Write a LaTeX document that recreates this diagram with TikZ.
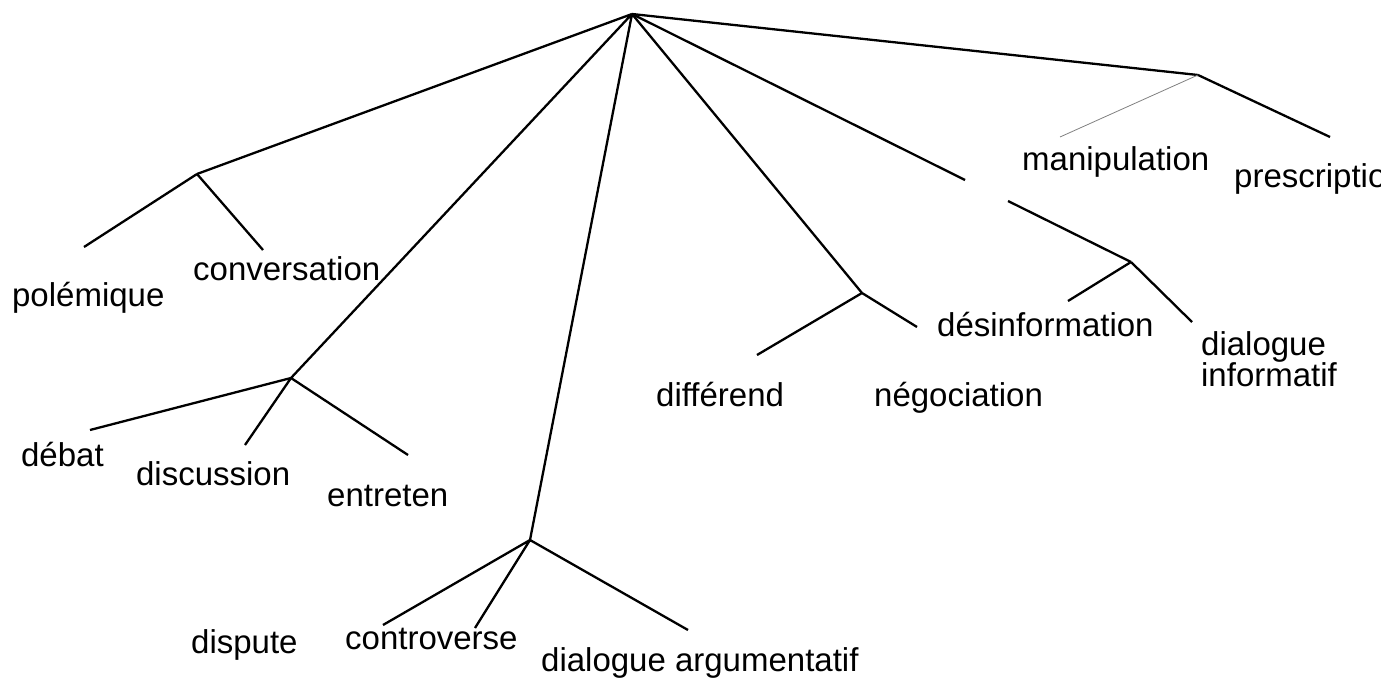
\documentclass[tikz,border=0pt]{standalone}
\usepackage{fontspec}
\setmainfont{Liberation Sans}
\usepackage{tikz}

\begin{document}
\begin{tikzpicture}[x=1pt, y=-1pt, line width=2.3pt,
    every node/.style={inner sep=0pt, anchor=base west, font=\fontsize{33}{23}\selectfont},
    thin branch/.style={line width=0.8pt, gray}]
    \useasboundingbox (0,0) rectangle (1381,679);
    \coordinate (root) at (632,14);
    % inner branch points
    \coordinate (pol) at (197,174);
    \coordinate (deb) at (291,378);
    \coordinate (dis) at (530,540);
    \coordinate (dif) at (862,293);
    \coordinate (inf) at (1131,262);
    \coordinate (man) at (1198,75);
    \coordinate (gapa) at (965,180);
    \coordinate (gapb) at (1008,201);
    % free ends
    \coordinate (polE) at (84,247);   \coordinate (conE) at (263,250);
    \coordinate (debE) at (90,430);   \coordinate (dscE) at (245,445);  \coordinate (entE) at (408,455);
    \coordinate (dspE) at (383,625);  \coordinate (ctrE) at (475,628);  \coordinate (argE) at (688,630);
    \coordinate (difE) at (757,355);  \coordinate (negE) at (917,327);
    \coordinate (desE) at (1068,301); \coordinate (infE) at (1192,322);
    \coordinate (manE) at (1060,137); \coordinate (preE) at (1330,137);

    \node (polemique) at (11,306) {polémique};
    \node (conversation) at (192,280) {conversation};
    \node (debat) at (20,466) {débat};
    \node (discussion) at (135,485) {discussion};
    \node (entreten) at (326,506) {entreten};
    \node (dispute) at (190,653) {dispute};
    \node (controverse) at (344,649) {controverse};
    \node (argumentatif) at (540,671) {dialogue argumentatif};
    \node (differend) at (655,406) {différend};
    \node (negociation) at (873,406) {négociation};
    \node (desinformation) at (936,336) {désinformation};
    \node[align=left, anchor=north west] (informatif) at (1200,330) {dialogue\\informatif};
    \node (manipulation) at (1021,171) {manipulation};
    \node (prescription) at (1233,188) {prescription};

    \draw (root) -- (pol) (root) -- (deb) (root) -- (dis) (root) -- (dif) (root) -- (man);
    \draw (root) -- (gapa) (gapb) -- (inf);
    \draw (pol) -- (polE) (pol) -- (conE);
    \draw (deb) -- (debE) (deb) -- (dscE) (deb) -- (entE);
    \draw (dis) -- (dspE) (dis) -- (ctrE) (dis) -- (argE);
    \draw (dif) -- (difE) (dif) -- (negE);
    \draw (inf) -- (desE) (inf) -- (infE);
    \draw[thin branch] (man) -- (manE);
    \draw (man) -- (preE);
\end{tikzpicture}
\end{document}
